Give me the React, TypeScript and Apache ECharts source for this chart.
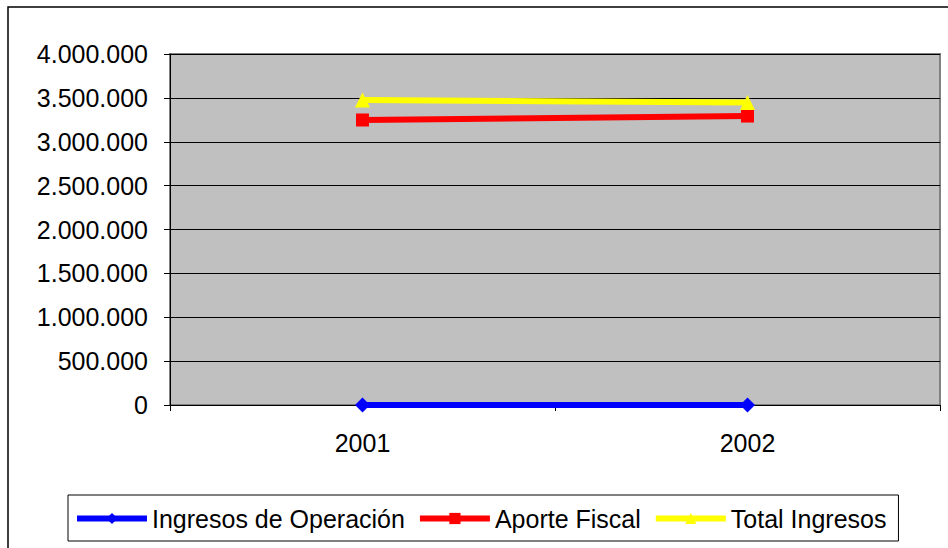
import React, { useEffect, useRef } from "react";
import * as echarts from "echarts";

const categories = ["2001", "2002"];
const ingresosOperacion = [0, 0];
const aporteFiscal = [3248000, 3293000];
const totalIngresos = [3476000, 3447000];

const fmt = (v: number) => String(Math.round(v)).replace(/\B(?=(\d{3})+(?!\d))/g, ".");

export default function App() {
  const ref = useRef<HTMLDivElement>(null);
  useEffect(() => {
    const chart = echarts.init(ref.current!, null, { renderer: "svg" });
    const font = "Arial, 'Liberation Sans', sans-serif";
    chart.setOption({
      animation: false,
      backgroundColor: "#ffffff",
      textStyle: { fontFamily: font },
      graphic: [
        {
          type: "rect",
          shape: { x: 8, y: 7, width: 950, height: 560 },
          style: { fill: "none", stroke: "#000", lineWidth: 1.5 },
          silent: true,
          z: -10,
        },
      ],
      grid: {
        left: 170,
        top: 54,
        right: 8,
        bottom: 143,
        show: true,
        backgroundColor: "#c0c0c0",
        borderColor: "#808080",
        borderWidth: 2,
      },
      legend: {
        left: 68,
        top: 495,
        padding: [11, 12, 10, 6],
        borderColor: "#000",
        borderWidth: 1,
        itemWidth: 70,
        itemHeight: 14,
        itemGap: 12,
        lineStyle: { width: 6 },
        textStyle: { fontSize: 25, color: "#000", fontFamily: font },
        data: [
          { name: "Ingresos de Operación" },
          { name: "Aporte Fiscal" },
          { name: "Total Ingresos" },
        ],
      },
      xAxis: {
        type: "category",
        data: categories,
        boundaryGap: true,
        axisLine: { lineStyle: { color: "#000", width: 1 } },
        axisTick: { show: true, length: 6, lineStyle: { color: "#000" } },
        axisLabel: { fontSize: 25, color: "#000", margin: 25, fontFamily: font },
      },
      yAxis: {
        type: "value",
        min: 0,
        max: 4000000,
        interval: 500000,
        axisLine: { show: true, lineStyle: { color: "#000" } },
        axisTick: { show: true, length: 6, inside: false, lineStyle: { color: "#000" } },
        splitLine: { lineStyle: { color: "#000", width: 1 } },
        axisLabel: { fontSize: 25, color: "#000", margin: 22, formatter: fmt, fontFamily: font },
      },
      series: [
        {
          name: "Ingresos de Operación",
          type: "line",
          data: ingresosOperacion,
          symbol: "diamond",
          symbolSize: 15,
          color: "#0000ff",
          lineStyle: { width: 6, color: "#0000ff" },
          itemStyle: { color: "#0000ff" },
          z: 3,
        },
        {
          name: "Aporte Fiscal",
          type: "line",
          data: aporteFiscal,
          symbol: "rect",
          symbolSize: 13,
          color: "#ff0000",
          lineStyle: { width: 6, color: "#ff0000" },
          itemStyle: { color: "#ff0000" },
          z: 3,
        },
        {
          name: "Total Ingresos",
          type: "line",
          data: totalIngresos,
          symbol: "triangle",
          symbolSize: 15,
          color: "#ffff00",
          lineStyle: { width: 6, color: "#ffff00" },
          itemStyle: { color: "#ffff00" },
          z: 3,
        },
      ],
    });
    return () => chart.dispose();
  }, []);
  return (
    <div
      ref={ref}
      style={{ position: "absolute", left: 0, top: 0, width: 948, height: 548 }}
    />
  );
}
